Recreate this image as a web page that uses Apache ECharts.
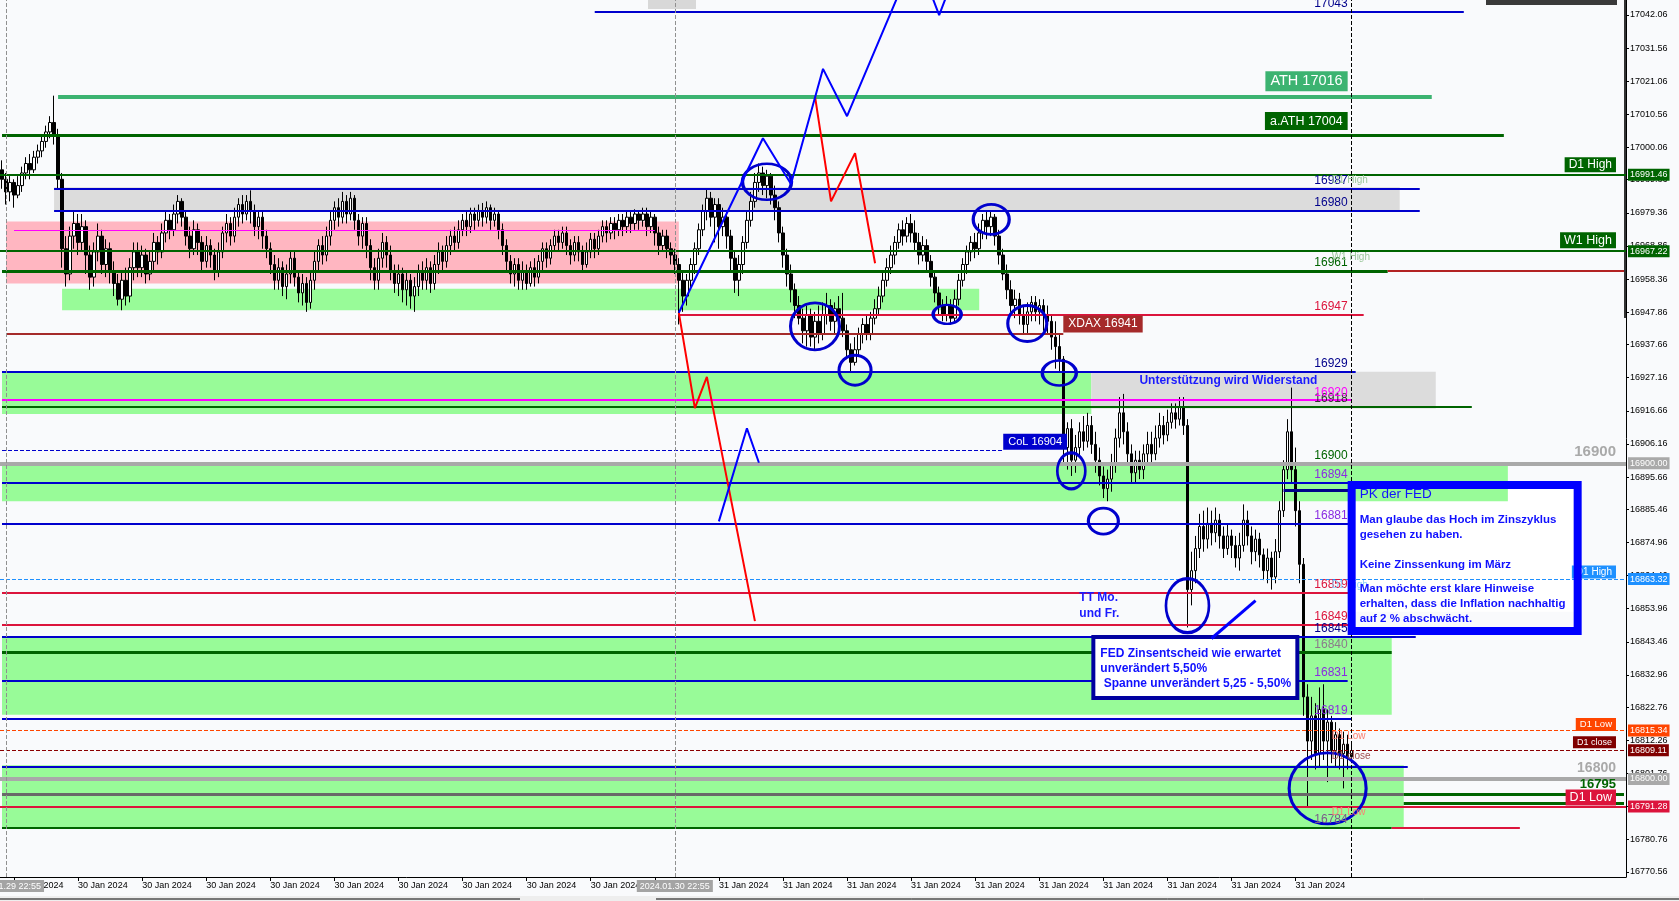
<!DOCTYPE html>
<html>
<head>
<meta charset="utf-8">
<script src="https://cdn.jsdelivr.net/npm/echarts@6/dist/echarts.min.js"></script>
<style>
html,body{margin:0;padding:0;background:#f9fafc;overflow:hidden}
#chart{width:1679px;height:901px}
</style>
</head>
<body>
<div id="chart"></div>
<script>
// ---------------- data ----------------
const barCount = 406;
const xTickLabels = ['30 Jan 2024','30 Jan 2024','30 Jan 2024','30 Jan 2024','30 Jan 2024','30 Jan 2024','30 Jan 2024','30 Jan 2024','30 Jan 2024','30 Jan 2024','30 Jan 2024',
  '31 Jan 2024','31 Jan 2024','31 Jan 2024','31 Jan 2024','31 Jan 2024','31 Jan 2024','31 Jan 2024','31 Jan 2024','31 Jan 2024','31 Jan 2024'];
const yTickValues = [17042.06,17031.56,17021.06,17010.56,17000.06,16989.86,16979.36,16968.86,16958.36,16947.86,16937.66,16927.16,16916.66,16906.16,16895.66,16885.46,16874.96,16864.46,16853.96,16843.46,16832.96,16822.76,16812.26,16801.76,16791.26,16780.76,16770.56];
const yMin = 16768.93, yMax = 17046.81;

// candles: [open, close, low, high]
const candles = [
[16993,16990,16987,16996],[16990,16986,16982,16992],[16986,16989,16983,16991],[16989,16985,16981,16990],
[16985,16988,16984,16991],[16988,16992,16986,16994],[16992,16995,16990,16997],[16995,16993,16990,16998],
[16993,16997,16992,16999],[16997,16999,16995,17001],[16999,17002,16997,17004],[17002,17005,17000,17007],
[17005,17008,17003,17010],[17008,17004,17001,17016.5],[17004,16990,16987,17006],[16990,16968,16962,16992],
[16968,16960,16956,16972],[16960,16972,16958,16975],[16972,16976,16968,16980],[16976,16970,16966,16979],
[16970,16975,16967,16979],[16975,16966,16960,16977],[16966,16959,16955,16969],[16959,16967,16956,16970],
[16967,16972,16964,16976],[16972,16963,16960,16974],[16963,16968,16959,16971],[16968,16961,16957,16970],
[16961,16957,16953,16964],[16957,16952,16950,16960],[16952,16958,16948.5,16961],[16958,16953,16950,16962],
[16953,16962,16951,16965],[16962,16967,16958,16970],[16967,16962,16959,16970],[16962,16966,16959,16969],
[16966,16960,16957,16968],[16960,16964,16958,16967],[16964,16970,16961,16973],[16970,16967,16963,16972],
[16967,16973,16965,16976],[16973,16977,16970,16980],[16977,16974,16971,16979],[16974,16979,16972,16982],
[16979,16983,16976,16985],[16983,16978,16975,16984],[16978,16972,16969,16980],[16972,16968,16965,16975],
[16968,16974,16966,16977],[16974,16970,16966,16976],[16970,16964,16961,16972],[16964,16969,16962,16972],
[16969,16966,16962,16971],[16966,16961,16958,16968],[16961,16967,16959,16970],[16967,16973,16965,16975],
[16973,16976,16970,16979],[16976,16972,16969,16978],[16972,16978,16970,16981],[16978,16982,16975,16984],
[16982,16979,16976,16985],[16979,16983,16977,16985],[16983,16980,16976,16986.5],[16980,16975,16972,16982],
[16975,16978,16971,16980],[16978,16972,16968,16980],[16972,16968,16965,16974],[16968,16963,16960,16970],
[16963,16958,16955,16966],[16958,16962,16955,16965],[16962,16956,16953,16964],[16956,16960,16952,16963],
[16960,16965,16957,16967],[16965,16959,16956,16967],[16959,16954,16951,16961],[16954,16957,16950,16960],
[16957,16951,16948,16959],[16951,16958,16949,16961],[16958,16964,16955,16967],[16964,16969,16961,16971],
[16969,16966,16963,16972],[16966,16972,16964,16975],[16972,16977,16969,16980],[16977,16981,16974,16983],
[16981,16978,16975,16984],[16978,16983,16976,16986],[16983,16979,16976,16985],[16979,16984,16977,16986],
[16984,16977,16974,16985],[16977,16972,16969,16979],[16972,16976,16968,16978],[16976,16969,16965,16978],
[16969,16962,16958,16971],[16962,16958,16955,16965],[16958,16965,16955,16968],[16965,16970,16962,16973],
[16970,16966,16962,16972],[16966,16961,16958,16969],[16961,16957,16954,16963],[16957,16960,16953,16963],
[16960,16955,16951,16962],[16955,16958,16950,16961],[16958,16953,16949,16960],[16953,16956,16948,16959],
[16956,16961,16953,16963],[16961,16958,16955,16964],[16958,16962,16955,16965],[16962,16957,16954,16964],
[16957,16963,16955,16966],[16963,16967,16960,16970],[16967,16964,16961,16969],[16964,16969,16962,16972],
[16969,16972,16966,16974],[16972,16970,16967,16975],[16970,16974,16968,16977],[16974,16977,16972,16979],
[16977,16975,16972,16980],[16975,16979,16973,16981],[16979,16977,16974,16981],[16977,16980,16975,16982],
[16980,16978,16975,16982.5],[16978,16981,16976,16983],[16981,16977,16974,16982],[16977,16979,16975,16981],
[16979,16974,16971,16980],[16974,16969,16966,16976],[16969,16964,16961,16971],[16964,16960,16957,16966],
[16960,16963,16956,16965],[16963,16958,16955,16965],[16958,16961,16955,16964],[16961,16957,16955,16963],
[16957,16962,16956,16964],[16962,16959,16956,16965],[16959,16964,16957,16966],[16964,16968,16961,16970],
[16968,16965,16962,16970],[16965,16969,16963,16971],[16969,16972,16967,16974],[16972,16970,16967,16974],
[16970,16973,16968,16975],[16973,16969,16966,16975],[16969,16966,16963,16971],[16966,16970,16964,16972],
[16970,16967,16964,16972],[16967,16963,16961,16969],[16963,16967,16962,16970],[16967,16971,16965,16973],
[16971,16968,16965,16973],[16968,16972,16966,16974],[16972,16975,16970,16977],[16975,16973,16970,16977],
[16973,16976,16971,16978],[16976,16974,16971,16978],[16974,16977,16972,16979],[16977,16975,16972,16979],
[16975,16978,16973,16980],[16978,16976,16973,16980],[16976,16979,16974,16980.5],[16979,16977,16974,16980],
[16977,16979,16975,16981],[16979,16975,16972,16981],[16975,16978,16973,16980],[16978,16973,16969,16979],
[16973,16969,16966,16975],[16969,16972,16967,16974],[16972,16968,16965,16974],[16968,16966,16963,16970],
[16966,16963,16960,16968],[16963,16958,16944,16965],[16958,16953,16948,16961],[16953,16958,16950,16960],
[16958,16963,16955,16965],[16963,16968,16960,16970],[16968,16974,16966,16976],[16974,16980,16972,16982],
[16980,16984,16977,16987],[16984,16978,16975,16986],[16978,16982,16970,16984],[16982,16975,16968,16984],
[16975,16978,16972,16981],[16978,16972,16968,16980],[16972,16965,16961,16974],[16965,16958,16954,16967],
[16958,16963,16953,16966],[16963,16970,16960,16972],[16970,16977,16968,16980],[16977,16983,16975,16986],
[16983,16989,16981,16992],[16989,16992,16986,16995],[16992,16988,16985,16994],[16988,16991,16984,16993],
[16991,16985,16982,16992],[16985,16981,16977,16988],[16981,16973,16970,16983],[16973,16966,16962,16975],
[16966,16960,16956,16968],[16960,16955,16951,16963],[16955,16950,16946,16957],[16950,16946,16944,16953],
[16946,16942,16938,16949],[16942,16947,16937,16950],[16947,16940,16937,16949],[16940,16945,16936,16948],
[16945,16941,16938,16950],[16941,16947,16939,16951],[16947,16950,16944,16954],[16950,16945,16942,16952],
[16945,16949,16941,16951],[16949,16946,16943,16953],[16946,16942,16940,16954],[16942,16936,16933,16944],
[16936,16932,16929,16938],[16932,16936,16931,16940],[16936,16941,16934,16943],[16941,16944,16938,16946],
[16944,16941,16939,16947],[16941,16946,16939,16948],[16946,16949,16944,16952],[16949,16953,16947,16956],
[16953,16958,16951,16961],[16958,16962,16956,16965],[16962,16966,16960,16969],[16966,16970,16963,16972],
[16970,16974,16968,16976],[16974,16972,16969,16977],[16972,16976,16970,16978],[16976,16973,16970,16979],
[16973,16970,16967,16977],[16970,16966,16963,16973],[16966,16969,16964,16972],[16969,16964,16961,16971],
[16964,16959,16956,16966],[16959,16954,16951,16961],[16954,16950,16947,16956],[16950,16947,16945,16952],
[16947,16950,16945,16953],[16950,16946,16944,16952],[16946,16952,16945,16955],[16952,16958,16950,16960],
[16958,16963,16956,16965],[16963,16967,16960,16969],[16967,16970,16964,16972],[16970,16968,16965,16973],
[16968,16973,16966,16976],[16973,16977,16971,16979],[16977,16975,16971,16980],[16975,16978,16972,16980],
[16978,16972,16969,16979],[16972,16966,16963,16974],[16966,16960,16958,16968],[16960,16955,16952,16963],
[16955,16950,16948,16958],[16950,16952,16946,16955],[16952,16947,16944,16954],[16947,16944,16941,16950],
[16944,16948,16941,16951],[16948,16951,16945,16953],[16951,16948,16945,16953],[16948,16950,16944,16952],
[16950,16947,16942,16952],[16947,16945,16941,16950],[16945,16940,16936,16947],[16940,16937,16930,16945],
[16937,16933,16929,16941],[16933,16905,16900,16934],[16905,16911,16898,16913],[16911,16901,16896,16914],
[16901,16905,16897,16909],[16905,16910,16902,16913],[16910,16907,16904,16915],[16907,16912,16905,16916],
[16912,16906,16903,16915],[16906,16901,16897,16910],[16901,16896,16893,16905],[16896,16892,16889,16899],
[16892,16895,16888,16898],[16895,16900,16891,16903],[16900,16908,16897,16911],[16908,16916,16905,16921],
[16916,16910,16906,16922],[16910,16903,16900,16913],[16903,16897,16894,16906],[16897,16901,16894,16904],
[16901,16898,16895,16904],[16898,16903,16895,16906],[16903,16906,16900,16910],[16906,16903,16900,16910],
[16903,16908,16901,16912],[16908,16912,16905,16916],[16912,16909,16906,16915],[16909,16913,16907,16917],
[16913,16916,16911,16919],[16916,16914,16911,16919],[16914,16918,16912,16921],[16918,16912,16909,16921],
[16912,16860,16848,16914],[16860,16866,16855,16872],[16866,16873,16862,16877],[16873,16880,16870,16884],
[16880,16876,16872,16885],[16876,16881,16873,16886],[16881,16878,16874,16885],[16878,16882,16875,16886],
[16882,16877,16873,16884],[16877,16873,16870,16880],[16873,16877,16871,16881],[16877,16874,16870,16879],
[16874,16870,16867,16877],[16870,16874,16866,16878],[16874,16882,16872,16887],[16882,16877,16874,16885],
[16877,16872,16868,16880],[16872,16876,16869,16879],[16876,16871,16867,16878],[16871,16866,16863,16873],
[16866,16870,16862,16873],[16870,16864,16860,16872],[16864,16872,16862,16876],[16872,16885,16870,16888],
[16885,16898,16883,16901],[16898,16910,16895,16914],[16910,16898,16894,16924],[16898,16885,16880,16905],
[16885,16868,16862,16888],[16868,16826,16820,16870],[16826,16812,16791,16830],[16812,16820,16806,16826],
[16820,16808,16803,16824],[16808,16822,16804,16829],[16822,16812,16806,16830],[16812,16818,16799,16822],
[16818,16809,16805,16820],[16809,16814,16804,16818],[16814,16808,16803,16816],[16808,16811,16797,16815],
[16811,16807,16803,16814],[16807,16809,16805,16812]
];

// full-width levels: value, color, width, type, tag background
const fullLevels = [
  [16991.46,'#006400',2,'solid','#006400'],
  [16967.22,'#006400',2,'solid','#006400'],
  [16900.00,'#a9a9a9',4,'solid','#a9a9a9'],
  [16863.32,'#1e90ff',1,'dashed','#1e90ff'],
  [16815.34,'#ff4500',1,'dashed','#ff4500'],
  [16809.11,'#8b0000',1,'dashed','#800000'],
  [16800.00,'#a9a9a9',4,'solid','#a9a9a9'],
  [16791.28,'#dc143c',2,'solid','#dc143c']
];
// partial levels: value, fromBar, toBar, color, width, type
const segLevels = [
  [17043,148,365,'#0000cd',2,'solid'],
  [17016,14,357,'#3cb371',4,'solid'],
  [17004,0,375,'#006400',3,'solid'],
  [16987,13,354,'#0000cd',2,'solid'],
  [16980,13,354,'#0000cd',2,'solid'],
  [16974,3,163,'#ff00ff',1,'solid'],
  [16961,0,346,'#006400',3,'solid'],
  [16961,346,405,'#b22222',2,'solid'],
  [16947,169,340,'#dc143c',2,'solid'],
  [16941,1,265,'#a52a2a',2,'solid'],
  [16929,0,338,'#0000cd',2,'solid'],
  [16920,0,337,'#ff00ff',2,'solid'],
  [16918,0,367,'#006400',2,'solid'],
  [16904,0,250,'#0000cd',1,'dashed'],
  [16894,0,339,'#0000cd',2,'solid'],
  [16881,0,337,'#0000cd',2,'solid'],
  [16859,0,337,'#dc143c',2,'solid'],
  [16849,0,337,'#dc143c',2,'solid'],
  [16845,0,353,'#0000cd',2,'solid'],
  [16840,0,347,'#006400',3,'solid'],
  [16831,0,336,'#0000cd',2,'solid'],
  [16819,0,337,'#0000cd',2,'solid'],
  [16804,0,351,'#0000cd',2,'solid'],
  [16795.3,0,350,'#696969',3,'solid'],
  [16795.3,350,405,'#006400',3,'solid'],
  [16792.3,350,405,'#006400',3,'solid'],
  [16784.5,0,347,'#006400',2,'solid'],
  [16784.5,347,379,'#dc143c',2,'solid'],
  [16891.5,320,337,'#00008b',3,'solid']
];
// zones: top, bottom, fromBar, toBar, color
const zones = [
  [16987.5,16980.3,13,349,'#dcdcdc'],
  [16976.6,16957.0,1,169,'#ffb6c1'],
  [16955.3,16948.5,15,244,'#98fb98'],
  [16893.1,16853.0,337,393,'#ffffff'],
  [16929.0,16915.6,0,272,'#98fb98'],
  [16929.0,16917.4,272,358,'#dcdcdc'],
  [16900.0,16888.0,0,376,'#98fb98'],
  [16845.3,16820.3,0,347,'#98fb98'],
  [16804.3,16784.5,0,350,'#98fb98']
];
// vertical lines: bar, color, type, bottom label
const vLines = [
  [1,'#909090','dashed','2024.01.29 22:55'],
  [168,'#909090','dashed','2024.01.30 22:55'],
  [337,'#000000','dashed','']
];
// level texts right-aligned at current time: text, value, color
const levelTexts = [
  ['17043',17043,'#00008b'],['16987',16987,'#00008b'],['16980',16980,'#00008b'],
  ['16961',16961,'#006400'],['16947',16947,'#dc143c'],['16929',16929,'#00008b'],
  ['16918',16918,'#333333'],['16920',16920,'#ff00ff'],['16900',16900,'#006400'],
  ['16894',16894,'#8a2be2'],['16881',16881,'#8a2be2'],['16859',16859,'#dc143c'],
  ['16849',16849,'#dc143c'],['16845',16845,'#00008b'],['16840',16840,'#8b7b8b'],
  ['16831',16831,'#8a2be2'],['16819',16819,'#8a2be2'],['16784',16784.5,'#7b5b8b']
];
// faint line descriptions: text, value, color
const descTexts = [
  ['D1 High',16991.46,'#9cc79c'],['W1 High',16967.22,'#9cc79c'],['D1 High',16863.32,'#87cefa'],
  ['D1 Low',16815.34,'#fa8072'],['D1 close',16809.11,'#a05050'],['D1 Low',16791.28,'#fa8072']
];
// name boxes left of price axis: text, value, bg, fontSize, dy
const nameBoxes = [
  ['D1 High',16991.46,'#006400',12,-10],['W1 High',16967.22,'#006400',12.5,-11],
  ['D1 High',16863.32,'#1e90ff',10,-7],['D1 Low',16815.34,'#ff4500',9.5,-6],
  ['D1 close',16809.11,'#800000',9,-8],['D1 Low',16791.28,'#dc143c',12.5,-9]
];
// big right texts: text, value, color, size, dy
const bigTexts = [
  ['16900',16900,'#a9a9a9',15,-11],['16800',16800,'#a9a9a9',14,-11],['16795',16795.3,'#006400',13,-9]
];
// label boxes: text, bar, value, anchor, bg, size, dy
const labelBoxes = [
  ['ATH 17016',336,17016,'left','#3cb371',14.5,-16],
  ['a.ATH 17004',336,17004,'left','#006400',12.5,-14],
  ['XDAX 16941',265,16941,'right','#a52a2a',12,-10],
  ['CoL 16904',250,16904,'right','#0000cd',11,-9]
];
// circles: bar, value, width px, height px
const circles = [
  [191,16989.2,49,36],[247,16977.3,36,30],[203,16943.4,49,47],[236,16947.2,28,19],
  [256,16944.3,39,36],[213,16929.5,32,30],[264,16928.6,34,25],[267,16897.6,28,36],
  [275,16881.7,30,26],[296,16854.9,43,54],[331,16797.0,77,71]
];
// projection zigzags: [bar, value] points
const zigRed1 = [[169,16947.7],[173,16917.5],[176,16927.4],[188,16850.0]];
const zigRed2 = [[203,17016.3],[207,16983.0],[213,16998.3],[218,16963.4]];
const zigBlue1 = [[179,16881.6],[186,16911.1],[189,16900.2]];
const zigBlue2 = [[169,16947.7],[190,17003.0],[197,16988.5],[205,17025.0],[211,17010.0],[225,17052.0]];
const zigBlue3 = [[231,17052.0],[234,17042.0],[237,17052.0]];
const fedArrow = [[302,16844.5],[313,16856.5]];
const notes = {
  fed: ['FED Zinsentscheid wie erwartet','unverändert 5,50%',' Spanne unverändert 5,25 - 5,50%'],
  pkHead: 'PK der FED',
  pk1: ['Man glaube das Hoch im Zinszyklus','gesehen zu haben.'],
  pk2: 'Keine Zinssenkung im März',
  pk3: ['Man möchte erst klare Hinweise','erhalten, dass die Inflation nachhaltig','auf 2 % abschwächt.'],
  tt: ['TT Mo.','und Fr.'],
  support: 'Unterstützung wird Widerstand'
};

// ---------------- build ----------------
const FONT = 'Liberation Sans, Arial, sans-serif';
const cats = Array.from({length: barCount}, (_, i) => 'b' + i);
const lastTickBar = 3 + 16 * (xTickLabels.length - 1);
const isTick = (i) => i % 16 === 3 && i <= lastTickBar;

function textPoint(text, bar, value, o) {
  return {
    coord: [bar, value], symbol: 'rect', symbolSize: 0, value: 0,
    label: Object.assign({
      show: true, position: o.pos || 'inside', distance: 0, offset: [0, o.dy || 0],
      formatter: text, color: o.color || '#000', fontSize: o.size || 12,
      fontWeight: o.bold ? 'bold' : 'normal', fontFamily: FONT,
      backgroundColor: o.bg || 'transparent', padding: o.pad || 0
    }, o.extra || {})
  };
}

const segLineData = segLevels.map(([v, a, b, c, w, t]) => [
  {coord: [a, v], lineStyle: {color: c, width: w, type: t}},
  {coord: [b, v]}
]);
const fullLineData = fullLevels.map(([v, c, w, t, bg]) => ({
  yAxis: v, lineStyle: {color: c, width: w, type: t},
  label: {show: true, position: 'end', distance: 2, formatter: v.toFixed(2), color: '#fff',
          backgroundColor: bg, padding: [2, 2, 1, 2], fontSize: 9, fontFamily: FONT}
}));
const vLineData = vLines.map(([b, c, t, lab]) => ({
  xAxis: b, lineStyle: {color: c, width: 1, type: t},
  label: lab ? {show: true, position: 'start', distance: 3, formatter: lab, color: '#fff',
          backgroundColor: '#a4a4a4', padding: [2, 3, 1, 3], fontSize: 9, fontFamily: FONT} : {show: false}
}));
const zoneData = zones.map(([t, b, a, e, c]) => [
  {coord: [a, t], itemStyle: {color: c}}, {coord: [e, b]}
]);

const textData = [];
levelTexts.forEach(([t, v, c]) => textData.push(textPoint(t, 336, v, {pos: 'left', dy: -8, color: c, size: 12})));
descTexts.forEach(([t, v, c]) => textData.push(textPoint(t, 332, v, {pos: 'right', dy: 6, color: c, size: 10})));
nameBoxes.forEach(([t, v, bg, s, dy]) => textData.push(textPoint(t, 403, v, {pos: 'left', dy: dy, color: '#fff', bg: bg, size: s, pad: [2, 4, 1, 4]})));
bigTexts.forEach(([t, v, c, s, dy]) => textData.push(textPoint(t, 403, v, {pos: 'left', dy: dy, color: c, size: s, bold: true})));
labelBoxes.forEach(([t, b, v, p, bg, s, dy]) => textData.push(textPoint(t, b, v, {pos: p, dy: dy, color: '#fff', bg: bg, size: s, pad: [3, 5, 2, 5]})));
textData.push(textPoint(notes.support, 284, 16926.3, {pos: 'right', color: '#1a1aff', size: 12, bold: true}));
textData.push(textPoint(notes.tt.join('\n'), 269, 16860.0, {pos: [0, 0], color: '#1a1aff', size: 12, bold: true, extra: {lineHeight: 16}}));
textData.push(textPoint(notes.fed.join('\n'), 273, 16844.35, {pos: [0, 0], color: '#1010ff', size: 12, bold: true, bg: '#ffffff',
  pad: [7, 5, 5, 5], extra: {lineHeight: 15, width: 190, height: 45, borderColor: '#0000a0', borderWidth: 4}}));
textData.push(textPoint(
  '{h|' + notes.pkHead + '}\n{s| }\n{b|' + notes.pk1[0] + '}\n{b|' + notes.pk1[1] + '}\n{s2| }\n{b|' + notes.pk2 + '}\n{s3| }\n{b|' + notes.pk3.join('}\n{b|') + '}',
  337, 16893.13, {pos: [0, 0], color: '#1010ff', size: 11.5, bg: 'transparent', pad: [2, 8, 4, 8],
  extra: {width: 210, height: 140, borderColor: '#0000ff', borderWidth: 4,
    rich: {h: {fontSize: 13.5, lineHeight: 14, color: '#1010ff', fontFamily: FONT},
           s: {lineHeight: 11, fontSize: 5}, s2: {lineHeight: 15, fontSize: 5}, s3: {lineHeight: 9.5, fontSize: 5},
           b: {fontSize: 11.5, lineHeight: 15, fontWeight: 'bold', color: '#1010ff', fontFamily: FONT}}}}));

const circleData = circles.map(([b, v, w, h]) => ({
  coord: [b, v], symbol: 'circle', symbolSize: [w, h], value: 0,
  itemStyle: {color: 'rgba(0,0,0,0)', borderColor: '#0000cd', borderWidth: 3},
  label: {show: false}
}));

function zig(data, color, width) {
  return {type: 'line', data: data, z: 6, symbol: 'none', silent: true,
          lineStyle: {color: color, width: width}, clip: true, animation: false};
}

const option = {
  animation: false,
  backgroundColor: '#f9fafc',
  textStyle: {fontFamily: FONT},
  grid: {left: -2, right: 53, top: 0, bottom: 24},
  xAxis: {
    type: 'category', data: cats, boundaryGap: true,
    axisLine: {show: true, lineStyle: {color: '#000', width: 1}},
    axisTick: {show: true, alignWithLabel: true, interval: isTick, length: 4, lineStyle: {color: '#000'}},
    axisLabel: {interval: isTick, formatter: (v, i) => xTickLabels[(i - 3) / 16] || '',
                align: 'left', fontSize: 9, color: '#000', margin: 4, fontFamily: FONT},
    splitLine: {show: false}
  },
  yAxis: {
    type: 'value', position: 'right', min: yMin, max: yMax,
    axisLine: {show: true, lineStyle: {color: '#000', width: 1}},
    axisTick: {show: true, customValues: yTickValues, length: 3, lineStyle: {color: '#000'}},
    axisLabel: {customValues: yTickValues, formatter: (v) => v.toFixed(2), fontSize: 9, color: '#000', margin: 4, fontFamily: FONT},
    splitLine: {show: false}
  },
  series: [
    {type: 'scatter', data: [], z: 1, silent: true,
     markArea: {silent: true, data: zoneData}},
    {type: 'candlestick', name: 'XDAX', data: candles, z: 3, barWidth: 3,
     itemStyle: {color: '#ffffff', color0: '#000000', borderColor: '#000000', borderColor0: '#000000', borderWidth: 1}},
    {type: 'scatter', data: [], z: 4, silent: true,
     markLine: {silent: true, symbol: ['none', 'none'], label: {show: false}, animation: false,
                data: segLineData.concat(fullLineData).concat(vLineData)}},
    zig(zigRed1, '#ff0000', 2), zig(zigRed2, '#ff0000', 2), zig(zigBlue1, '#0000ff', 2), zig(zigBlue2, '#0000ff', 2),
    zig(zigBlue3, '#0000ff', 2), zig(fedArrow, '#0000ff', 3),
    {type: 'scatter', data: [], z: 7, silent: true,
     markPoint: {silent: true, animation: false, data: circleData}},
    {type: 'scatter', data: [], z: 8, silent: true,
     markPoint: {silent: true, animation: false, data: textData}}
  ],
  graphic: [
    {type: 'rect', left: 648, top: 0, shape: {width: 48, height: 9}, style: {fill: '#d8d8d8'}, silent: true},
    {type: 'rect', left: 1486, top: 0, shape: {width: 131, height: 5}, style: {fill: '#3a3a3a'}, silent: true},
    {type: 'rect', left: 1624, top: 0, shape: {width: 3, height: 318}, style: {fill: '#333333'}, silent: true},
    {type: 'rect', left: 0, top: 896, shape: {width: 1679, height: 5}, style: {fill: '#eeeeee'}, silent: true},
    {type: 'line', shape: {x1: 0, y1: 899, x2: 520, y2: 899}, style: {stroke: '#000', lineWidth: 1}, silent: true},
    {type: 'line', shape: {x1: 656, y1: 899, x2: 1679, y2: 899}, style: {stroke: '#000', lineWidth: 1}, silent: true}
  ]
};
const chart = echarts.init(document.getElementById('chart'));
chart.setOption(option);
</script>
</body>
</html>
